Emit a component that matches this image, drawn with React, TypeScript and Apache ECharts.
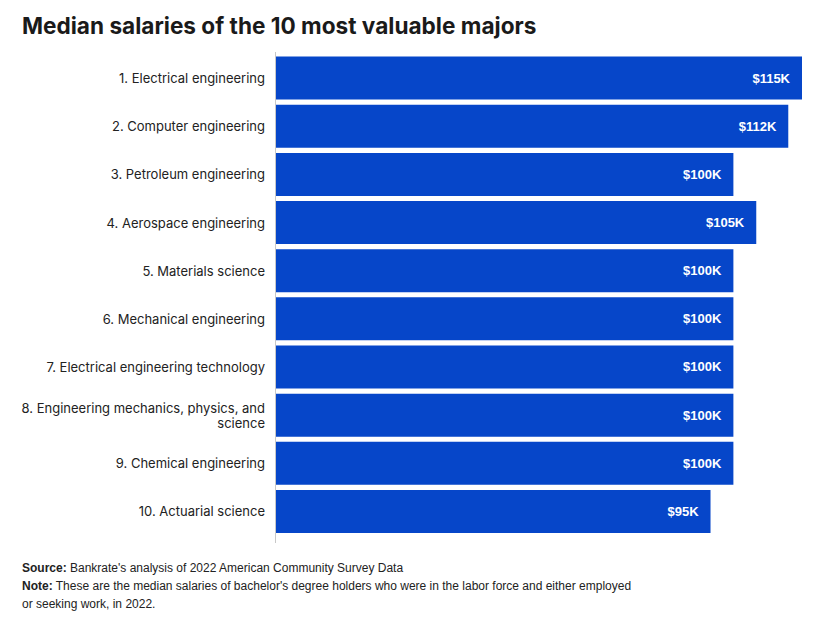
import React, { useEffect, useRef } from "react";
import * as echarts from "echarts";

const categories = [
  "1. Electrical engineering",
  "2. Computer engineering",
  "3. Petroleum engineering",
  "4. Aerospace engineering",
  "5. Materials science",
  "6. Mechanical engineering",
  "7. Electrical engineering technology",
  "8. Engineering mechanics, physics, and\nscience",
  "9. Chemical engineering",
  "10. Actuarial science",
];
const salariesK = [115, 112, 100, 105, 100, 100, 100, 100, 100, 95];

const titleText = "Median salaries of the 10 most valuable majors";
const sourceText = "Bankrate's analysis of 2022 American Community Survey Data";
const noteLine1 =
  "These are the median salaries of bachelor's degree holders who were in the labor force and either employed";
const noteLine2 = "or seeking work, in 2022.";

export default function App() {
  const ref = useRef<HTMLDivElement>(null);
  useEffect(() => {
    if (!ref.current) return;
    const chart = echarts.init(ref.current, undefined, { renderer: "svg" });
    const footFont = "Liberation Sans, Arial, sans-serif";
    chart.setOption({
      animation: false,
      backgroundColor: "#ffffff",
      grid: { left: 276, right: 22, top: 54, height: 481.5, containLabel: false },
      xAxis: {
        type: "value",
        min: 0,
        max: 115,
        show: false,
      },
      yAxis: {
        type: "category",
        inverse: true,
        data: categories,
        axisLine: { show: false },
        axisTick: { show: false },
        axisLabel: {
          color: "#222222",
          fontSize: 13,
          fontFamily: "Inter, Lato, sans-serif",
          margin: 11,
          align: "right",
          lineHeight: 15,
        },
      },
      series: [
        {
          type: "bar",
          data: salariesK,
          barWidth: 43,
          itemStyle: { color: "#0646c9" },
          label: {
            show: true,
            position: "insideRight",
            distance: 12,
            color: "#ffffff",
            fontSize: 13,
            fontWeight: "bold",
            fontFamily: "Liberation Sans, Arial, sans-serif",
            formatter: (p: any) => "$" + p.value + "K",
          },
        },
      ],
      graphic: [
        {
          type: "line",
          shape: { x1: 275.5, y1: 52, x2: 275.5, y2: 543 },
          style: { stroke: "#c8c8c8", lineWidth: 1 },
          z: 10,
        },
        {
          type: "text",
          left: 22,
          top: 14,
          style: {
            text: titleText,
            fontSize: 22.6,
            fontWeight: 700,
            fontFamily: "Inter, sans-serif",
            fill: "#1a1a1a",
          },
        },
        {
          type: "text",
          left: 22,
          top: 562,
          style: {
            text: "{b|Source:} " + sourceText,
            rich: {
              b: { fontWeight: "bold", fontSize: 12, fontFamily: footFont, fill: "#222" },
            },
            fontSize: 12,
            fontFamily: footFont,
            fill: "#222",
          },
        },
        {
          type: "text",
          left: 22,
          top: 580,
          style: {
            text: "{b|Note:} " + noteLine1,
            rich: {
              b: { fontWeight: "bold", fontSize: 12, fontFamily: footFont, fill: "#222" },
            },
            fontSize: 12,
            fontFamily: footFont,
            fill: "#222",
          },
        },
        {
          type: "text",
          left: 22,
          top: 598,
          style: {
            text: noteLine2,
            fontSize: 12,
            fontFamily: footFont,
            fill: "#222",
          },
        },
      ],
    });
    return () => chart.dispose();
  }, []);
  return <div ref={ref} style={{ width: 824, height: 617, position: "absolute", left: 0, top: 0 }} />;
}
